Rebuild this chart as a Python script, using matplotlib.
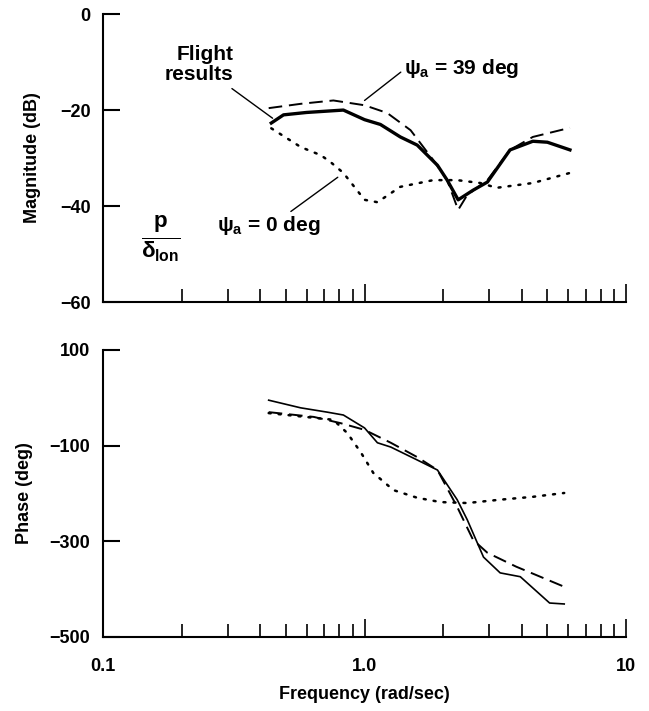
import matplotlib
matplotlib.use("Agg")
import matplotlib.pyplot as plt
from matplotlib.ticker import LogLocator, NullFormatter, FixedLocator

plt.rcParams['font.family'] = ['Liberation Sans', 'DejaVu Sans']
plt.rcParams['font.weight'] = 'bold'
plt.rcParams['mathtext.fontset'] = 'custom'
plt.rcParams['mathtext.rm'] = 'Liberation Sans'
plt.rcParams['mathtext.bf'] = 'Liberation Sans:bold'
plt.rcParams['mathtext.it'] = 'Liberation Sans:bold'

# magnitude (dB)
mag_flight_f = [0.44, 0.49, 0.6, 0.83, 1.0, 1.15, 1.37, 1.59, 1.9, 2.07, 2.28, 2.6, 2.95, 3.6, 4.4, 5.0, 6.1]
mag_flight = [-22.7, -21.0, -20.5, -20.0, -22.0, -23.0, -25.6, -27.3, -31.5, -34.6, -38.7, -36.7, -35.0, -28.3, -26.5, -26.7, -28.3]
mag_39_f = [0.43, 0.57, 0.76, 1.0, 1.22, 1.5, 1.83, 2.07, 2.28, 2.47, 2.95, 3.6, 4.4, 6.1]
mag_39 = [-19.6, -18.7, -18.0, -19.0, -20.6, -24.2, -30.4, -34.6, -40.8, -37.7, -34.6, -28.3, -25.6, -23.7]
mag_0_f = [0.44, 0.57, 0.68, 0.74, 0.83, 1.0, 1.12, 1.37, 1.83, 2.26, 2.77, 3.2, 4.4, 6.1]
mag_0 = [-23.8, -27.7, -29.4, -30.8, -33.1, -38.7, -39.2, -36.0, -34.6, -34.6, -35.2, -36.2, -35.2, -33.1]

# phase (deg)
ph_flight_f = [0.43, 0.57, 0.72, 0.83, 1.0, 1.12, 1.26, 1.59, 1.9, 2.26, 2.47, 2.85, 3.3, 3.94, 5.1, 5.8]
ph_flight = [-5, -21, -30, -36, -63, -94, -103, -130, -151, -213, -255, -333, -366, -374, -429, -431]
ph_39_f = [0.43, 0.64, 0.81, 1.0, 1.26, 1.59, 1.9, 2.26, 2.6, 2.95, 3.8, 5.8]
ph_39 = [-30, -40, -53, -67, -94, -124, -151, -228, -297, -324, -353, -395]
ph_0_f = [0.43, 0.76, 0.86, 0.97, 1.08, 1.29, 1.59, 1.95, 2.47, 3.3, 4.4, 5.8]
ph_0 = [-32, -46, -74, -115, -157, -193, -209, -218, -220, -213, -207, -199]

fig = plt.figure(figsize=(6.49, 7.11), dpi=100)
ax1 = fig.add_axes([0.1587, 0.5752, 0.806, 0.405])
ax2 = fig.add_axes([0.1587, 0.1041, 0.806, 0.4037])

dash = (0, (7, 3.5))
dot = (0, (0.8, 3.2))

ax1.plot(mag_39_f, mag_39, color='black', lw=1.4, linestyle=dash)
ax1.plot(mag_0_f, mag_0, color='black', lw=1.8, linestyle=dot, dash_capstyle='round')
ax1.plot(mag_flight_f, mag_flight, color='black', lw=2.4)

ax2.plot(ph_39_f, ph_39, color='black', lw=1.4, linestyle=dash)
ax2.plot(ph_0_f, ph_0, color='black', lw=1.8, linestyle=dot, dash_capstyle='round')
ax2.plot(ph_flight_f, ph_flight, color='black', lw=1.2)

for ax in (ax1, ax2):
    ax.set_xscale('log')
    ax.set_xlim(0.1, 10)
    ax.spines['top'].set_visible(False)
    ax.spines['right'].set_visible(False)
    ax.spines['left'].set_linewidth(1.5)
    ax.spines['bottom'].set_linewidth(1.5)
    ax.xaxis.set_major_locator(FixedLocator([0.1, 1.0, 10]))
    ax.xaxis.set_minor_locator(LogLocator(base=10, subs=range(2, 10)))
    ax.xaxis.set_minor_formatter(NullFormatter())
    ax.tick_params(axis='x', which='major', direction='in', length=13, width=1.2, pad=15, labelsize=13)
    ax.tick_params(axis='x', which='minor', direction='in', length=9.5, width=1.2)
    ax.tick_params(axis='y', which='major', direction='in', length=12, width=1.5, pad=9, labelsize=13)

ax1.set_ylim(-60, 0)
ax1.set_yticks([0, -20, -40, -60])
ax1.set_yticklabels(['0', '\u221220', '\u221240', '\u221260'])
ax1.tick_params(axis='x', labelbottom=False)
ax1.set_ylabel('Magnitude (dB)', fontsize=13, fontweight='bold')
ax1.yaxis.set_label_coords(-0.118, 0.5)

ax2.set_ylim(-500, 100)
ax2.set_yticks([100, -100, -300, -500])
ax2.set_yticklabels(['100', '\u2212100', '\u2212300', '\u2212500'])
ax2.set_xticklabels(['0.1', '1.0', '10'])
ax2.set_ylabel('Phase (deg)', fontsize=13, fontweight='bold')
ax2.yaxis.set_label_coords(-0.134, 0.5)
ax2.set_xlabel('Frequency (rad/sec)', fontsize=13, fontweight='bold')
ax2.xaxis.set_label_coords(0.5, -0.172)

# annotations in the magnitude panel
ax1.annotate('Flight\nresults', xy=(0.445, -21.7), xytext=(0.316, -14.6),
             ha='right', va='bottom', fontsize=15, fontweight='bold', linespacing=1.05,
             arrowprops=dict(arrowstyle='-', color='black', lw=1.0, shrinkA=2, shrinkB=0))
ax1.annotate('\u03c8$_\\mathbf{a}$ = 39 deg', xy=(1.0, -18.0), xytext=(1.41, -13.8),
             ha='left', va='bottom', fontsize=15, fontweight='bold',
             arrowprops=dict(arrowstyle='-', color='black', lw=1.0, shrinkA=0, shrinkB=0,
                             relpos=(0, 0.45)))
ax1.annotate('\u03c8$_\\mathbf{a}$ = 0 deg', xy=(0.79, -34.0), xytext=(0.272, -46.5),
             ha='left', va='bottom', fontsize=15, fontweight='bold',
             arrowprops=dict(arrowstyle='-', color='black', lw=1.0, shrinkA=0, shrinkB=0,
                             relpos=(0.68, 1.0)))
ax1.text(0.167, -46.9, '$\\frac{\\mathbf{p}}{\\delta_{\\mathbf{lon}}}$', fontsize=23,
         ha='center', va='center')

fig.savefig('out.png', dpi=100)
